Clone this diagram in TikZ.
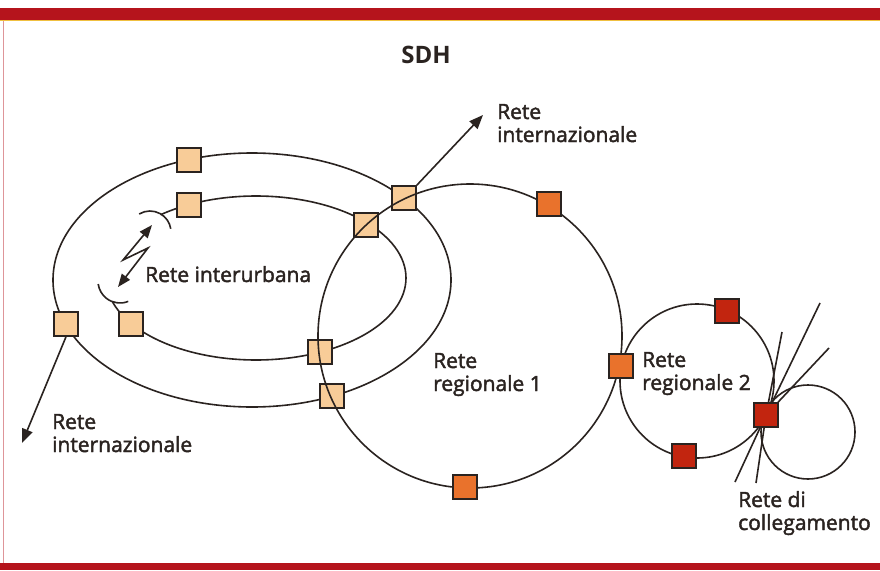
\documentclass[tikz,border=0pt]{standalone}
\usepackage{fontspec}
\setmainfont{Open Sans}
\newfontfamily\lblfont{Open Sans}[FakeBold=2]
\usetikzlibrary{arrows.meta}
\definecolor{ln}{HTML}{2A2320}
\definecolor{lightsq}{HTML}{F8CC98}
\definecolor{orngsq}{HTML}{E9722C}
\definecolor{redsq}{HTML}{C2250F}
\definecolor{barred}{HTML}{B5141C}
\definecolor{baryel}{HTML}{F0C040}
\begin{document}
\begin{tikzpicture}[x=1pt,y=-1pt,
  ring/.style={draw=ln, line width=1.6pt},
  sq/.style={draw=ln, line width=1.6pt, minimum size=24pt, inner sep=0pt, rectangle},
  lsq/.style={sq, fill=lightsq},
  osq/.style={sq, fill=orngsq},
  rsq/.style={sq, fill=redsq},
  lbl/.style={font=\lblfont\fontsize{21}{23}\selectfont, text=ln, inner sep=0pt, align=left, anchor=base west},
  arr/.style={draw=ln, line width=1.6pt, -{Triangle[length=14pt,width=11pt]}},
  zig/.style={draw=ln, line width=1.6pt, {Triangle[length=13pt,width=10pt]}-{Triangle[length=13pt,width=10pt]}}
]
\useasboundingbox (0,0) rectangle (880,570);
\fill[white] (0,0) rectangle (880,570);
\fill[barred] (0,8) rectangle (880,20);
\draw[baryel, line width=1pt] (0,20.5) -- (880,20.5);
\fill[barred] (0,563) rectangle (880,570);
\draw[barred!45, line width=1pt] (3,21) -- (3,563);

% title
\node[font=\fontsize{24}{26}\selectfont\bfseries, text=ln, anchor=base, inner sep=0pt] (title) at (426,63) {SDH};

% interurban rings
\draw[ring] (252,280) ellipse [x radius=199, y radius=127];
\draw[ring] (256,278) ++(230.5:150 and 82) arc[start angle=230.5, end angle=523, x radius=150, y radius=82];
% radio dishes
\draw[ring] (150,232) ++(-121:21) arc[start angle=-121, end angle=-9, radius=21];
\draw[ring] (120,281) ++(68:22) arc[start angle=68, end angle=172, radius=22];
% radio link
\coordinate (z1) at (152,225);
\coordinate (z2) at (123,260);
\coordinate (z3) at (148,248);
\coordinate (z4) at (118,287);
\draw[zig] (z1) -- (z2) -- (z3) -- (z4);

% light squares
\node[lsq] (A1) at (189,160) {};
\node[lsq] (A2) at (404,198) {};
\node[lsq] (A3) at (66,324) {};
\node[lsq] (A4) at (332,396) {};
\node[lsq] (B1) at (189,205) {};
\node[lsq] (B2) at (366,225) {};
\node[lsq] (B3) at (131,324) {};
\node[lsq] (B4) at (320,352) {};

% regional rings
\draw[ring] (470,336) circle[radius=152];
\draw[ring] (697,381) circle[radius=77];
\draw[ring] (808,432) circle[radius=47];

% orange and red squares
\node[osq] (C1) at (549,204) {};
\node[osq] (C2) at (621,366) {};
\node[osq] (C3) at (465,487) {};
\node[rsq] (D1) at (727,311) {};
\node[rsq] (D2) at (684,456) {};
\node[rsq] (D3) at (766,415) {};

% access lines
\coordinate (f1) at (782,332);
\coordinate (f2) at (820,303);
\coordinate (f3) at (829,348);
\coordinate (f4) at (735,482);
\coordinate (f5) at (756,483);
\foreach \f in {f1,f2,f3,f4,f5} \draw[ring] (D3) -- (\f);

% international arrows
\coordinate (t1) at (483,115);
\coordinate (t2) at (22,443);
\draw[arr] (A2.north east) -- (t1);
\draw[arr] (A3.south) -- (t2);

% labels (anchor = baseline of last line)
\node[lbl] (l1) at (497,142) {Rete\\internazionale};
\node[lbl] (l2) at (145,282) {Rete interurbana};
\node[lbl] (l3) at (433,391) {Rete\\regionale 1};
\node[lbl] (l4) at (642,390) {Rete\\regionale 2};
\node[lbl] (l5) at (52,452) {Rete\\internazionale};
\node[lbl] (l6) at (738,530) {Rete di\\collegamento};
\end{tikzpicture}
\end{document}
